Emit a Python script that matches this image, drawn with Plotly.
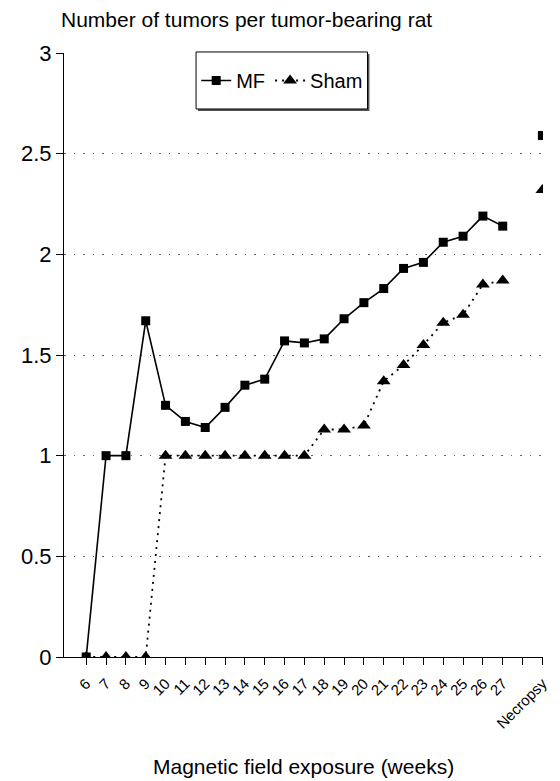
import plotly.graph_objects as go

# Weekly observations (weeks 6-27) and the necropsy count
weeks = [str(w) for w in range(6, 28)]
mf_weekly = [0, 1.0, 1.0, 1.67, 1.25, 1.17, 1.14, 1.24, 1.35, 1.38, 1.57,
             1.56, 1.58, 1.68, 1.76, 1.83, 1.93, 1.96, 2.06, 2.09, 2.19, 2.14]
sham_weekly = [0, 0, 0, 0, 1.0, 1.0, 1.0, 1.0, 1.0, 1.0, 1.0,
               1.0, 1.13, 1.13, 1.15, 1.37, 1.45, 1.55, 1.66, 1.70, 1.85, 1.87]
mf_necropsy = 2.59
sham_necropsy = 2.32

# Axis ticks: one per week, an empty slot, then necropsy
tick_labels = weeks + ["", "Necropsy"]
tick_pos = list(range(len(tick_labels)))
week_pos = [tick_labels.index(w) for w in weeks]
necropsy_pos = tick_labels.index("Necropsy")

y_ticks = [0, 0.5, 1, 1.5, 2, 2.5, 3]
y_tick_text = ["0", "0.5", "1", "1.5", "2", "2.5", "3"]

FONT = "Liberation Sans, Arial, sans-serif"
SQ = dict(symbol="square", size=9, color="black")
TRI = dict(symbol="triangle-up", size=12, color="black")

fig = go.Figure()
fig.add_trace(go.Scatter(
    x=week_pos, y=mf_weekly, name="MF", mode="lines+markers",
    line=dict(color="black", width=1.6), marker=SQ,
))
fig.add_trace(go.Scatter(
    x=week_pos, y=sham_weekly, name="Sham", mode="lines+markers",
    line=dict(color="black", width=1.8, dash="2px,5px"), marker=TRI,
))
fig.add_trace(go.Scatter(
    x=[necropsy_pos], y=[mf_necropsy], mode="markers", showlegend=False, marker=SQ,
))
fig.add_trace(go.Scatter(
    x=[necropsy_pos], y=[sham_necropsy], mode="markers", showlegend=False, marker=TRI,
))

# Framed legend box with a slight drop shadow
box = dict(x0=0.2757, x1=0.6337, y0=0.9073, y1=1.0017)
shapes = [
    dict(type="rect", xref="paper", yref="paper", layer="above",
         x0=box["x0"] + 0.004, x1=box["x1"] + 0.004,
         y0=box["y0"] - 0.0035, y1=box["y1"] - 0.0035,
         line=dict(width=0), fillcolor="#555555"),
    dict(type="rect", xref="paper", yref="paper", layer="above",
         line=dict(color="black", width=1), fillcolor="white", **box),
]

fig.update_layout(
    width=560, height=781,
    margin=dict(l=64, r=10, t=53, b=124),
    paper_bgcolor="white", plot_bgcolor="white",
    font=dict(family=FONT, color="black"),
    showlegend=True,
    legend=dict(
        orientation="h", x=0.276, y=0.9545, xanchor="left", yanchor="middle",
        bgcolor="rgba(0,0,0,0)", borderwidth=0,
        font=dict(size=20, family=FONT), itemwidth=30,
    ),
    shapes=shapes,
    xaxis=dict(
        range=[-1.12, 23.03], tickmode="array", tickvals=tick_pos,
        ticktext=tick_labels, tickangle=-45, tickfont=dict(size=15),
        ticks="outside", ticklen=7, tickcolor="black", ticklabelstandoff=4,
        showline=True, linecolor="black", linewidth=1,
        showgrid=False, zeroline=False,
    ),
    yaxis=dict(
        range=[0, 3], tickmode="array", tickvals=y_ticks, ticktext=y_tick_text,
        tickfont=dict(size=22), ticks="outside", ticklen=7, tickcolor="black",
        showline=True, linecolor="black", linewidth=1,
        showgrid=True, gridcolor="#666666", griddash="1.5px,8px", gridwidth=1.2,
        zeroline=False,
    ),
    annotations=[
        dict(text="Number of tumors per tumor-bearing rat", xref="paper", yref="paper",
             x=-0.01, y=1.0, yshift=34, xanchor="left", yanchor="middle",
             showarrow=False, font=dict(size=21, family=FONT)),
        dict(text="Magnetic field exposure (weeks)", xref="paper", yref="paper",
             x=0.5, y=0, yshift=-96, xanchor="center", yanchor="top",
             showarrow=False, font=dict(size=21, family=FONT)),
    ],
)

fig.write_html("out.html")
